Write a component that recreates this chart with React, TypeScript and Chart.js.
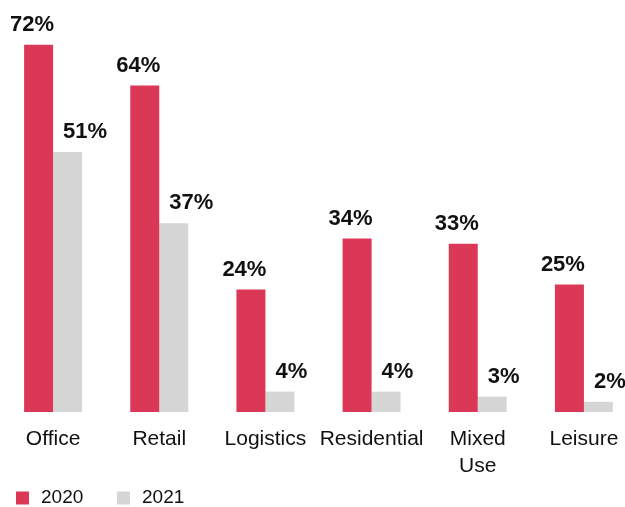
import React, { useEffect, useRef } from "react";
import { Chart, registerables } from "chart.js";

Chart.register(...registerables);

const categories: (string | string[])[] = ["Office", "Retail", "Logistics", "Residential", ["Mixed", "Use"], "Leisure"];
const values2020 = [72, 64, 24, 34, 33, 25];
const values2021 = [51, 37, 4, 4, 3, 2];
const seriesNames = ["2020", "2021"];

const RED = "#DA3856";
const GREY = "#D5D6D5";
const TEXT = "#111111";
const FONT = "'Liberation Sans', Arial, Helvetica, sans-serif";

const valueLabels = {
  id: "valueLabels",
  afterDatasetsDraw(chart: any) {
    const ctx = chart.ctx;
    ctx.save();
    ctx.font = `bold 22px ${FONT}`;
    ctx.fillStyle = TEXT;
    ctx.textBaseline = "middle";
    chart.data.datasets.forEach((ds: any, di: number) => {
      const meta = chart.getDatasetMeta(di);
      meta.data.forEach((bar: any, i: number) => {
        const { x, y, width } = bar.getProps(["x", "y", "width"], true);
        const text = ds.data[i] + "%";
        if (di === 0) {
          ctx.textAlign = "right";
          ctx.fillText(text, x + width / 2 + 1, y - 20);
        } else {
          ctx.textAlign = "left";
          ctx.fillText(text, x - width / 2 + 10, y - 20);
        }
      });
    });
    ctx.restore();
  },
};

const bottomLegend = {
  id: "bottomLegend",
  afterDraw(chart: any) {
    const ctx = chart.ctx;
    ctx.save();
    ctx.font = `19px ${FONT}`;
    ctx.textBaseline = "middle";
    ctx.textAlign = "left";
    let x = 16;
    const yMid = chart.height - 9;
    chart.data.datasets.forEach((ds: any) => {
      ctx.fillStyle = ds.backgroundColor;
      ctx.fillRect(x, yMid - 6.5, 13, 13);
      ctx.fillStyle = TEXT;
      ctx.fillText(ds.label, x + 25, yMid);
      x += 101;
    });
    ctx.restore();
  },
};

export default function App() {
  const ref = useRef<HTMLCanvasElement | null>(null);
  useEffect(() => {
    if (!ref.current) return;
    const chart = new Chart(ref.current, {
      type: "bar",
      data: {
        labels: categories,
        datasets: [
          { label: seriesNames[0], data: values2020, backgroundColor: RED, borderWidth: 0 },
          { label: seriesNames[1], data: values2021, backgroundColor: GREY, borderWidth: 0 },
        ],
      },
      options: {
        responsive: false,
        animation: false,
        devicePixelRatio: 1,
        layout: { padding: { left: 0, right: 3, top: 4, bottom: 27 } },
        datasets: { bar: { categoryPercentage: 0.546, barPercentage: 1 } },
        plugins: { legend: { display: false }, tooltip: { enabled: false } },
        scales: {
          x: {
            grid: { display: false, drawTicks: false, tickLength: 0 },
            border: { display: false },
            ticks: {
              color: TEXT,
              font: { family: FONT, size: 21, lineHeight: 1.29 },
              padding: 13.5,
              maxRotation: 0,
              autoSkip: false,
            },
            afterFit: (scale: any) => {
              scale.height = 68;
            },
          },
          y: { display: false, min: 0, max: 80 },
        },
      },
      plugins: [valueLabels, bottomLegend],
    });
    return () => chart.destroy();
  }, []);
  return (
    <div style={{ position: "absolute", left: 0, top: 0, width: 625, height: 507, overflow: "hidden", background: "#fff" }}>
      <canvas ref={ref} width={640} height={507} style={{ display: "block", width: 640, height: 507 }} />
    </div>
  );
}
